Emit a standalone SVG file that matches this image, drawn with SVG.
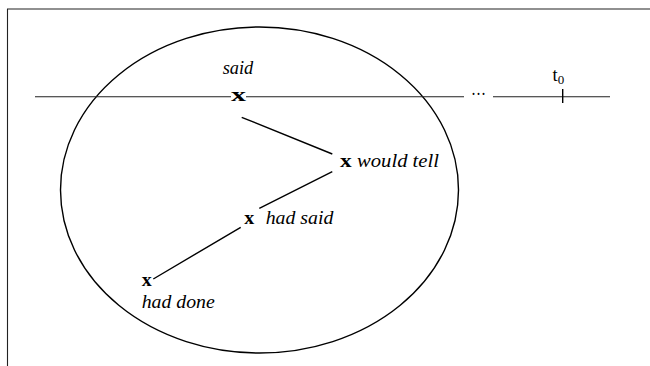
<svg xmlns="http://www.w3.org/2000/svg" width="650" height="366" viewBox="0 0 650 366">
<style>
.ln{stroke:#000;stroke-width:1.4;fill:none}
.tl{stroke:#222;stroke-width:1.1;fill:none}
.x{font-family:"Liberation Serif",serif;font-weight:bold;font-size:18.5px;fill:#000}
.lab{font-family:"Liberation Serif",serif;font-style:italic;font-size:18.5px;fill:#000}
.t{font-family:"Liberation Serif",serif;font-size:18.5px;fill:#000}
</style>
<rect width="650" height="366" fill="#fff"/>
<g id="frame"><path class="tl" d="M7.5,366 V9 H650"/></g>
<g id="ellipse"><ellipse class="ln" cx="259.5" cy="190" rx="199" ry="163"/></g>
<g id="timeline">
<path class="tl" d="M35,96.7 H231 M246,96.7 H464 M493,96.7 H610"/>
<path class="ln" d="M562.7,89 V103"/>
<text class="t" x="471" y="99.5" textLength="15" lengthAdjust="spacingAndGlyphs">···</text>
<text class="t" x="552.5" y="81">t<tspan font-size="13" dy="3">0</tspan></text>
</g>
<g id="connectors">
<path class="ln" d="M241.7,117.3 L332.3,154 M332.3,171.7 L259.3,208.3 M240.7,227.3 L153.3,279"/>
</g>
<g id="n-said"><text class="lab" x="222.7" y="73.5" textLength="30.6" lengthAdjust="spacingAndGlyphs">said</text><text class="x" x="231" y="101" textLength="15" lengthAdjust="spacingAndGlyphs">x</text></g>
<g id="n-would-tell"><text class="x" x="340" y="167" textLength="11.7" lengthAdjust="spacingAndGlyphs">x</text><text class="lab" x="357" y="167" textLength="82" lengthAdjust="spacingAndGlyphs">would tell</text></g>
<g id="n-had-said"><text class="x" x="244.3" y="224" textLength="10" lengthAdjust="spacingAndGlyphs">x</text><text class="lab" x="265.7" y="224" textLength="67.6" lengthAdjust="spacingAndGlyphs">had said</text></g>
<g id="n-had-done"><text class="x" x="141.7" y="286" textLength="10" lengthAdjust="spacingAndGlyphs">x</text><text class="lab" x="141.7" y="308" textLength="73" lengthAdjust="spacingAndGlyphs">had done</text></g>
</svg>
